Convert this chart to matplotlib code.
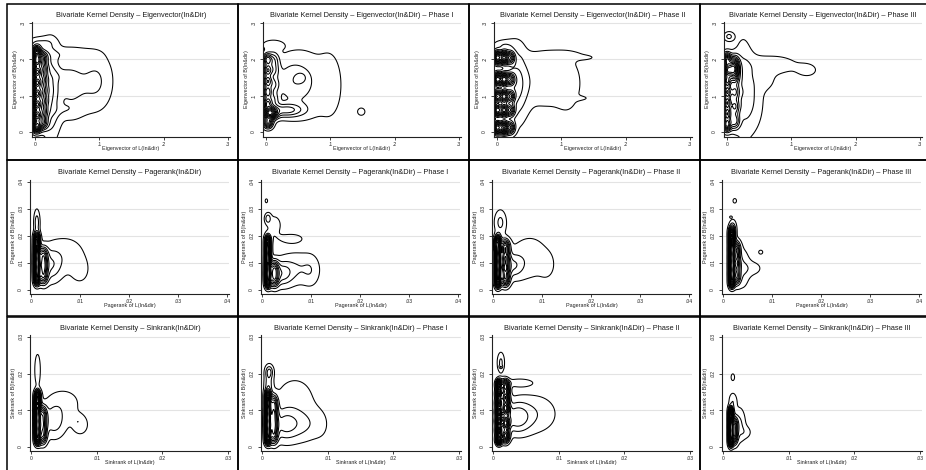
import numpy as np
import matplotlib.pyplot as plt
from matplotlib.patches import Rectangle

plt.rcParams['font.family'] = ['Liberation Sans', 'DejaVu Sans']

# density blobs: (x centre, y centre, x spread, y spread, weight)
eig_all = [
    (0.002, 0.015, 0.0045, 0.011, 0.45), (0.002, 0.045, 0.0045, 0.011, 0.45),
    (0.002, 0.075, 0.0045, 0.011, 0.45), (0.002, 0.105, 0.0045, 0.011, 0.45),
    (0.002, 0.135, 0.0045, 0.011, 0.45), (0.002, 0.165, 0.0045, 0.011, 0.45),
    (0.002, 0.195, 0.0045, 0.011, 0.45), (0.002, 0.220, 0.0045, 0.011, 0.45),
    (0.011, 0.025, 0.006, 0.013, 0.30), (0.011, 0.055, 0.006, 0.013, 0.30),
    (0.011, 0.085, 0.006, 0.013, 0.30), (0.011, 0.115, 0.006, 0.013, 0.30),
    (0.011, 0.145, 0.006, 0.013, 0.30), (0.011, 0.175, 0.006, 0.013, 0.30),
    (0.011, 0.205, 0.006, 0.013, 0.30),
    (0.025, 0.110, 0.009, 0.080, 0.15), (0.055, 0.125, 0.020, 0.060, 0.09),
    (0.097, 0.140, 0.017, 0.055, 0.08), (0.008, 0.245, 0.014, 0.012, 0.08),
    (0.050, 0.215, 0.025, 0.012, 0.04),
    (0.045, 0.155, 0.012, 0.012, 0.03), (0.045, 0.060, 0.014, 0.012, 0.03),
]
eig_p1 = [
    (0.002, 0.080, 0.0045, 0.011, 0.30), (0.002, 0.110, 0.0045, 0.011, 0.30),
    (0.002, 0.140, 0.0045, 0.011, 0.30), (0.002, 0.170, 0.0045, 0.011, 0.30),
    (0.002, 0.200, 0.0045, 0.011, 0.30),
    (0.006, 0.052, 0.007, 0.011, 0.60), (0.003, 0.025, 0.005, 0.010, 0.35),
    (0.012, 0.090, 0.006, 0.015, 0.15), (0.012, 0.130, 0.006, 0.015, 0.15),
    (0.012, 0.170, 0.006, 0.015, 0.15), (0.012, 0.200, 0.006, 0.015, 0.15),
    (0.030, 0.060, 0.020, 0.013, 0.20), (0.055, 0.150, 0.006, 0.010, 0.06),
    (0.040, 0.140, 0.020, 0.040, 0.09), (0.060, 0.130, 0.030, 0.070, 0.06),
    (0.100, 0.130, 0.012, 0.060, 0.05), (0.148, 0.056, 0.004, 0.007, 0.08),
    (0.010, 0.240, 0.012, 0.010, 0.06),
]
eig_p2 = [
    (0.000, 0.205, 0.0045, 0.012, 0.50), (0.000, 0.145, 0.0045, 0.012, 0.50),
    (0.000, 0.098, 0.0045, 0.012, 0.50), (0.000, 0.060, 0.0045, 0.012, 0.50),
    (0.000, 0.012, 0.0045, 0.012, 0.50),
    (0.011, 0.205, 0.0045, 0.012, 0.50), (0.011, 0.145, 0.0045, 0.012, 0.50),
    (0.011, 0.098, 0.0045, 0.012, 0.50), (0.011, 0.060, 0.0045, 0.012, 0.50),
    (0.011, 0.012, 0.0045, 0.012, 0.50),
    (0.021, 0.205, 0.0045, 0.012, 0.25), (0.021, 0.145, 0.0045, 0.012, 0.25),
    (0.021, 0.098, 0.0045, 0.012, 0.25), (0.021, 0.060, 0.0045, 0.012, 0.25),
    (0.021, 0.012, 0.0045, 0.012, 0.25),
    (0.030, 0.130, 0.012, 0.070, 0.12), (0.075, 0.140, 0.035, 0.055, 0.065),
    (0.110, 0.125, 0.012, 0.050, 0.035),
    (0.100, 0.210, 0.030, 0.010, 0.04), (0.135, 0.205, 0.010, 0.004, 0.035),
    (0.130, 0.093, 0.012, 0.005, 0.025), (0.010, 0.240, 0.012, 0.010, 0.06),
]
eig_p3 = [
    (0.000, 0.020, 0.0045, 0.012, 0.50), (0.000, 0.050, 0.0045, 0.012, 0.50),
    (0.000, 0.080, 0.0045, 0.012, 0.50), (0.000, 0.110, 0.0045, 0.012, 0.50),
    (0.000, 0.140, 0.0045, 0.012, 0.50), (0.000, 0.170, 0.0045, 0.012, 0.50),
    (0.000, 0.200, 0.0045, 0.012, 0.50),
    (0.012, 0.030, 0.005, 0.015, 0.30), (0.012, 0.070, 0.005, 0.015, 0.30),
    (0.012, 0.110, 0.005, 0.015, 0.30), (0.012, 0.150, 0.005, 0.015, 0.30),
    (0.012, 0.190, 0.005, 0.015, 0.30),
    (0.009, 0.172, 0.006, 0.015, 0.50), (0.003, 0.263, 0.005, 0.008, 0.12),
    (0.025, 0.120, 0.010, 0.080, 0.12), (0.070, 0.185, 0.030, 0.020, 0.06),
    (0.040, 0.090, 0.012, 0.060, 0.07), (0.060, 0.140, 0.012, 0.020, 0.04),
    (0.125, 0.170, 0.012, 0.014, 0.045),
]

pr_all = [
    (0.0012, 0.004, 0.0004, 0.0015, 0.5), (0.0012, 0.007, 0.0004, 0.0015, 0.5),
    (0.0012, 0.010, 0.0004, 0.0015, 0.5), (0.0012, 0.013, 0.0004, 0.0015, 0.5),
    (0.0012, 0.016, 0.0004, 0.0015, 0.5), (0.0012, 0.019, 0.0004, 0.0015, 0.5),
    (0.0025, 0.005, 0.0006, 0.0020, 0.3), (0.0025, 0.009, 0.0006, 0.0020, 0.3),
    (0.0025, 0.013, 0.0006, 0.0020, 0.3),
    (0.0012, 0.025, 0.0004, 0.0030, 0.12), (0.0040, 0.009, 0.0015, 0.0040, 0.12),
    (0.0070, 0.013, 0.0030, 0.0050, 0.06), (0.0100, 0.007, 0.0012, 0.0030, 0.05),
]
pr_p1 = [
    (0.0012, 0.003, 0.0004, 0.0015, 0.5), (0.0012, 0.006, 0.0004, 0.0015, 0.5),
    (0.0012, 0.009, 0.0004, 0.0015, 0.5), (0.0012, 0.012, 0.0004, 0.0015, 0.5),
    (0.0012, 0.015, 0.0004, 0.0015, 0.5), (0.0012, 0.018, 0.0004, 0.0015, 0.5),
    (0.0025, 0.004, 0.0006, 0.0020, 0.3), (0.0025, 0.008, 0.0006, 0.0020, 0.3),
    (0.0012, 0.0265, 0.0004, 0.0012, 0.12), (0.0009, 0.033, 0.0002, 0.0006, 0.06),
    (0.0040, 0.006, 0.0015, 0.0030, 0.15), (0.0070, 0.008, 0.0025, 0.0040, 0.08),
    (0.0060, 0.019, 0.0020, 0.0015, 0.05), (0.0025, 0.024, 0.0012, 0.0030, 0.05),
    (0.0100, 0.007, 0.0012, 0.0040, 0.05),
]
pr_p2 = [
    (0.0010, 0.003, 0.0004, 0.0015, 0.5), (0.0010, 0.006, 0.0004, 0.0015, 0.5),
    (0.0010, 0.009, 0.0004, 0.0015, 0.5), (0.0010, 0.012, 0.0004, 0.0015, 0.5),
    (0.0010, 0.015, 0.0004, 0.0015, 0.5), (0.0010, 0.018, 0.0004, 0.0015, 0.5),
    (0.0025, 0.004, 0.0006, 0.0018, 0.35), (0.0025, 0.008, 0.0006, 0.0018, 0.35),
    (0.0025, 0.012, 0.0006, 0.0018, 0.35), (0.0025, 0.016, 0.0006, 0.0018, 0.35),
    (0.0003, 0.017, 0.0003, 0.0010, 0.3), (0.0015, 0.025, 0.0008, 0.0030, 0.10),
    (0.0040, 0.009, 0.0015, 0.0030, 0.12), (0.0075, 0.012, 0.0030, 0.0060, 0.06),
    (0.0110, 0.009, 0.0010, 0.0030, 0.04),
]
pr_p3 = [
    (0.0018, 0.003, 0.0004, 0.0015, 0.5), (0.0018, 0.006, 0.0004, 0.0015, 0.5),
    (0.0018, 0.009, 0.0004, 0.0015, 0.5), (0.0018, 0.012, 0.0004, 0.0015, 0.5),
    (0.0018, 0.015, 0.0004, 0.0015, 0.5), (0.0018, 0.018, 0.0004, 0.0015, 0.5),
    (0.0018, 0.021, 0.0004, 0.0015, 0.5),
    (0.0028, 0.005, 0.0005, 0.0020, 0.3), (0.0028, 0.010, 0.0005, 0.0020, 0.3),
    (0.0028, 0.015, 0.0005, 0.0020, 0.3),
    (0.0020, 0.023, 0.0005, 0.0020, 0.10), (0.0024, 0.033, 0.0003, 0.0007, 0.06),
    (0.0016, 0.027, 0.0002, 0.0003, 0.05), (0.0077, 0.014, 0.0004, 0.0007, 0.05),
    (0.0060, 0.008, 0.0015, 0.0020, 0.05), (0.0040, 0.008, 0.0010, 0.0050, 0.08),
]

sk_all = [
    (0.0010, 0.002, 0.0003, 0.0010, 0.5), (0.0010, 0.004, 0.0003, 0.0010, 0.5),
    (0.0010, 0.006, 0.0003, 0.0010, 0.5), (0.0010, 0.008, 0.0003, 0.0010, 0.5),
    (0.0010, 0.010, 0.0003, 0.0010, 0.5), (0.0010, 0.012, 0.0003, 0.0010, 0.5),
    (0.0010, 0.014, 0.0003, 0.0010, 0.5),
    (0.0018, 0.003, 0.0004, 0.0015, 0.3), (0.0018, 0.006, 0.0004, 0.0015, 0.3),
    (0.0018, 0.009, 0.0004, 0.0015, 0.3),
    (0.0010, 0.021, 0.0003, 0.0030, 0.08), (0.0035, 0.007, 0.0012, 0.0030, 0.12),
    (0.0050, 0.012, 0.0020, 0.0030, 0.05), (0.0075, 0.006, 0.0009, 0.0020, 0.06),
    (0.0071, 0.0069, 0.0002, 0.0003, 0.03),
]
sk_p1 = [
    (0.0009, 0.002, 0.0003, 0.0010, 0.5), (0.0009, 0.004, 0.0003, 0.0010, 0.5),
    (0.0009, 0.006, 0.0003, 0.0010, 0.5), (0.0009, 0.008, 0.0003, 0.0010, 0.5),
    (0.0009, 0.010, 0.0003, 0.0010, 0.5), (0.0009, 0.012, 0.0003, 0.0010, 0.5),
    (0.0009, 0.014, 0.0003, 0.0010, 0.5),
    (0.0018, 0.003, 0.0004, 0.0015, 0.3), (0.0018, 0.006, 0.0004, 0.0015, 0.3),
    (0.0018, 0.009, 0.0004, 0.0015, 0.3), (0.0018, 0.012, 0.0004, 0.0015, 0.3),
    (0.0011, 0.0205, 0.0004, 0.0012, 0.15), (0.0010, 0.017, 0.0004, 0.0020, 0.12),
    (0.0035, 0.006, 0.0015, 0.0030, 0.15), (0.0065, 0.006, 0.0015, 0.0030, 0.07),
    (0.0050, 0.013, 0.0025, 0.0050, 0.05), (0.0090, 0.006, 0.0010, 0.0030, 0.03),
]
sk_p2 = [
    (0.0009, 0.0020, 0.0003, 0.0009, 0.45), (0.0009, 0.0045, 0.0003, 0.0009, 0.45),
    (0.0009, 0.0070, 0.0003, 0.0009, 0.45), (0.0009, 0.0095, 0.0003, 0.0009, 0.45),
    (0.0009, 0.0120, 0.0003, 0.0009, 0.45), (0.0009, 0.0145, 0.0003, 0.0009, 0.45),
    (0.0009, 0.0170, 0.0003, 0.0009, 0.45),
    (0.0019, 0.0030, 0.0004, 0.0012, 0.35), (0.0019, 0.0065, 0.0004, 0.0012, 0.35),
    (0.0019, 0.0105, 0.0004, 0.0012, 0.35), (0.0019, 0.0135, 0.0004, 0.0012, 0.35),
    (0.0019, 0.0165, 0.0004, 0.0012, 0.35),
    (0.0012, 0.0230, 0.0004, 0.0020, 0.08), (0.0012, 0.0218, 0.0002, 0.0003, 0.05),
    (0.0040, 0.0175, 0.0015, 0.0008, 0.06), (0.0035, 0.0080, 0.0015, 0.0030, 0.12),
    (0.0065, 0.0090, 0.0025, 0.0040, 0.06),
]
sk_p3 = [
    (0.0012, 0.0015, 0.00025, 0.0010, 0.5), (0.0012, 0.0035, 0.00025, 0.0010, 0.5),
    (0.0012, 0.0055, 0.00025, 0.0010, 0.5), (0.0012, 0.0075, 0.00025, 0.0010, 0.5),
    (0.0012, 0.0095, 0.00025, 0.0010, 0.5),
    (0.0018, 0.0030, 0.0003, 0.0015, 0.3), (0.0018, 0.0060, 0.0003, 0.0015, 0.3),
    (0.0015, 0.0125, 0.0004, 0.0015, 0.08), (0.0015, 0.0190, 0.0002, 0.0007, 0.07),
    (0.0025, 0.0060, 0.0006, 0.0030, 0.10), (0.0035, 0.0040, 0.0006, 0.0012, 0.05),
]

panels = [[eig_all, eig_p1, eig_p2, eig_p3],
          [pr_all, pr_p1, pr_p2, pr_p3],
          [sk_all, sk_p1, sk_p2, sk_p3]]

measures = ['Eigenvector', 'Pagerank', 'Sinkrank']
phases = ['', ' – Phase I', ' – Phase II', ' – Phase III']
row_ticks = [[0, 0.1, 0.2, 0.3], [0, 0.01, 0.02, 0.03, 0.04], [0, 0.01, 0.02, 0.03]]
row_ticklabels = [['0', '.1', '.2', '.3'], ['0', '.01', '.02', '.03', '.04'],
                  ['0', '.01', '.02', '.03']]
row_xlim = [(-0.0047, 0.303), (-0.0002, 0.0404), (-0.00015, 0.0303)]
row_ylim = [(-0.0138, 0.303), (-0.0015, 0.0407), (-0.0011, 0.0305)]

# layout in pixels
W, H = 926, 470
col_off = [0, 231, 462, 692]
row_box = [(32, 230, 22, 137), (30, 229, 180, 294), (30, 230, 335, 451)]  # left, right, top, bottom
panel_x = [7, 238, 469, 700]
panel_y = [4, 160, 317]

fig = plt.figure(figsize=(W / 100, H / 100), dpi=100)
fig.patch.set_facecolor('white')

for r in range(3):
    left, right, top, bottom = row_box[r]
    for c in range(4):
        l = left + col_off[c]
        ax = fig.add_axes([l / W, 1 - bottom / H, (right - left) / W, (bottom - top) / H])
        x0, x1 = row_xlim[r]
        y0, y1 = row_ylim[r]
        xx, yy = np.meshgrid(np.linspace(x0, x1, 400), np.linspace(y0, y1, 400))
        zz = np.zeros_like(xx)
        for cx, cy, sx, sy, w in panels[r][c]:
            zz += w * np.exp(-0.5 * (((xx - cx) / sx) ** 2 + ((yy - cy) / sy) ** 2))
        levels = np.linspace(0.03, 0.92 * zz.max(), 12)
        ax.contour(xx, yy, zz, levels=levels, colors='black', linewidths=0.75)

        ax.set_xlim(x0, x1)
        ax.set_ylim(y0, y1)
        ax.set_xticks(row_ticks[r])
        ax.set_xticklabels(row_ticklabels[r])
        ax.set_yticks(row_ticks[r])
        ax.set_yticklabels(row_ticklabels[r], rotation=90, va='center')
        for t in row_ticks[r][1:]:
            ax.axhline(t, color='#e3e3e3', lw=0.8, zorder=0)
        for s in ['top', 'right']:
            ax.spines[s].set_visible(False)
        for s in ['left', 'bottom']:
            ax.spines[s].set_color('#222222')
            ax.spines[s].set_linewidth(0.8)
        ax.tick_params(axis='both', direction='out', length=2.5, width=0.6,
                       labelsize=3.6, colors='#222222')
        ax.tick_params(axis='x', pad=0.8)
        ax.tick_params(axis='y', pad=2.5)

        hgt = bottom - top
        wid = right - left
        ax.text(0.5, 1 + 7 / hgt, 'Bivariate Kernel Density – ' + measures[r] + '(In&Dir)' + phases[c],
                transform=ax.transAxes, ha='center', va='center', fontsize=5.3, color='#1a1a1a')
        ax.set_xlabel(measures[r] + ' of L(In&dir)', fontsize=3.9, color='#222222')
        ax.xaxis.set_label_coords(0.5, -11.5 / hgt)
        ax.xaxis.label.set_va('center')
        ax.set_ylabel(measures[r] + ' of B(In&dir)', fontsize=3.9, color='#222222')
        ax.yaxis.set_label_coords(-16.5 / wid, 0.5)
        ax.yaxis.label.set_va('center')

# panel frames
for r in range(3):
    for c in range(4):
        fig.add_artist(Rectangle((panel_x[c] / W, 1 - (panel_y[r] + 156) / H), 231 / W, 156 / H,
                                 transform=fig.transFigure, fill=False, ec='black', lw=1.1))

plt.savefig('out.png', dpi=100)
